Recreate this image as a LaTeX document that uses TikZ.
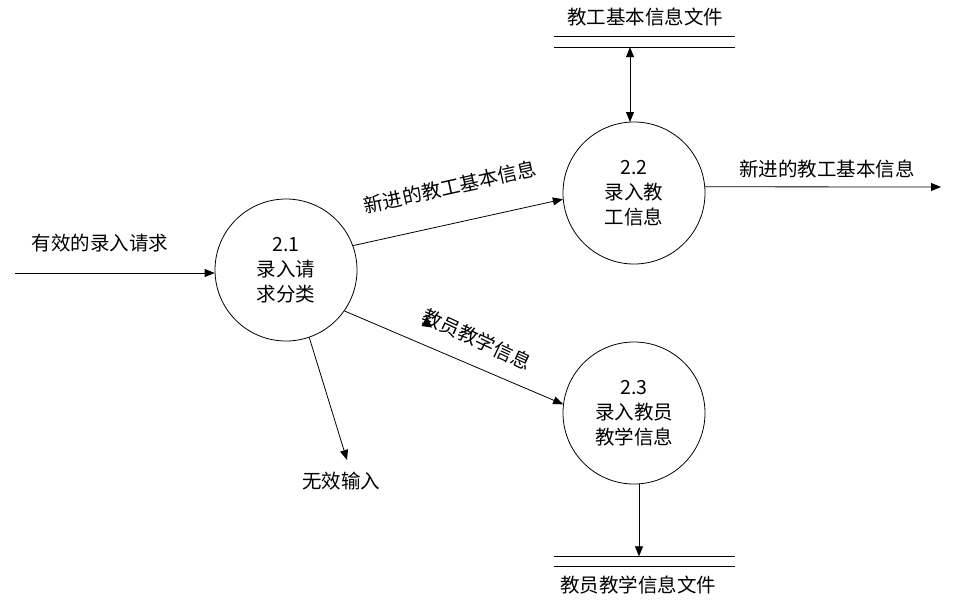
\documentclass[tikz,border=0pt]{standalone}
\usepackage{fontspec}
\setmainfont{Noto Sans CJK SC}
\usetikzlibrary{arrows.meta}
\begin{document}
\begin{tikzpicture}[x=1pt,y=-1pt,
  font=\fontsize{19.5}{25}\selectfont,
  proc/.style={circle,draw,line width=0.8pt,minimum size=142pt,inner sep=0pt,align=center},
  store/.style={minimum width=181pt,minimum height=10pt,inner sep=0pt},
  flow/.style={line width=0.8pt,-{Triangle[length=10pt,width=8pt]}},
  lbl/.style={inner sep=1pt}]
\useasboundingbox[fill=white] (0,0) rectangle (979,611);
\node[proc] (c21) at (286,270) {2.1\\录入请\\求分类};
\node[proc] (c22) at (634,193) {2.2\\录入教\\工信息};
\node[proc] (c23) at (634,413) {2.3\\录入教员\\教学信息};
\node[store] (s1) at (644.5,42) {};
\node[store] (s2) at (644.5,561.5) {};
\draw[line width=0.8pt] (s1.north west) -- (s1.north east) (s1.south west) -- (s1.south east);
\draw[line width=0.8pt] (s2.north west) -- (s2.north east) (s2.south west) -- (s2.south east);
\node[lbl] (t1) at (645,17) {教工基本信息文件};
\node[lbl] (t2) at (638,585) {教员教学信息文件};
\coordinate (in) at (15,273);
\coordinate (out) at (941,187);
\coordinate (bad) at (347,460);
\draw[flow] (in) -- (c21.west |- in);
\node[lbl] (l1) at (100,243) {有效的录入请求};
\draw[flow] (c21.20) -- (c22.185);
\node[lbl,rotate=12.5] (l2) at (450,187) {新进的教工基本信息};
\draw[flow] (c21.-35.6) -- (c23.173.6);
\node[lbl,rotate=-25] (l3) at (477,339) {教员教学信息};
\fill (427,316) -- (421.5,326) -- (432,327.5) -- cycle;
\draw[flow] (c21.-71.8) -- (bad);
\node[lbl] (l4) at (341,481) {无效输入};
\draw[flow] (c22.5) -- (out);
\node[lbl] (l5) at (827,169) {新进的教工基本信息};
\draw[line width=0.8pt,{Triangle[length=10pt,width=8pt]}-{Triangle[length=10pt,width=8pt]}] (s1.south -| 630,0) -- (630,122);
\draw[flow] (639,483.7) -- (s2.north -| 639,0);
\end{tikzpicture}
\end{document}
